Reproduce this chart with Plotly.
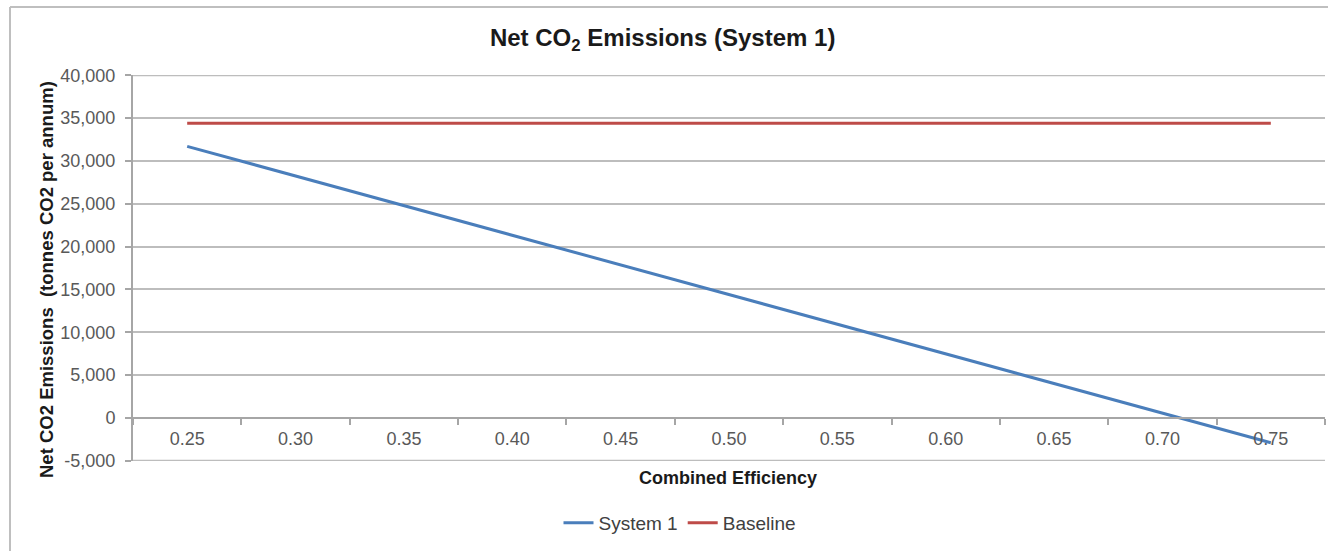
import plotly.graph_objects as go

efficiency = ["0.25", "0.30", "0.35", "0.40", "0.45", "0.50", "0.55", "0.60", "0.65", "0.70", "0.75"]
system1 = [31700, 28240, 24780, 21320, 17860, 14400, 10940, 7480, 4020, 560, -2900]
baseline = [34400] * 11
y_ticks = [-5000, 0, 5000, 10000, 15000, 20000, 25000, 30000, 35000, 40000]
y_tick_labels = ["-5,000", "0", "5,000", "10,000", "15,000", "20,000", "25,000", "30,000", "35,000", "40,000"]

FONT = "Liberation Sans, Arial, sans-serif"
W, H = 1328, 551
L, R, T, B = 133, 3, 75, 90
pw, ph = W - L - R, H - T - B
GRID = "#bdbdbd"

def px(x):
    return (x - L) / pw

def py(y):
    return (H - B - y) / ph

fig = go.Figure()
fig.add_trace(go.Scatter(x=efficiency, y=system1, mode="lines", name="System 1",
                         line=dict(color="#4a7ebb", width=3)))
fig.add_trace(go.Scatter(x=efficiency, y=baseline, mode="lines", name="Baseline",
                         line=dict(color="#be4b48", width=3)))

ymin, ymax = y_ticks[0], y_ticks[-1]
pad = 25
fig.update_layout(
    width=W, height=H,
    margin=dict(l=L, r=R, t=T, b=B),
    paper_bgcolor="white", plot_bgcolor="white",
    font=dict(family=FONT, size=18, color="#404040"),
    title=dict(text="<b>Net CO<sub>2</sub> Emissions (System 1)</b>",
               x=0.499, xanchor="center", y=1 - 38 / H, yanchor="middle",
               font=dict(family=FONT, size=24, color="#1a1a1a")),
    xaxis=dict(type="category", range=[-0.5, 10.5], showgrid=False,
               showline=True, linecolor="#a6a6a6", linewidth=2,
               ticks="outside", tickson="boundaries", ticklen=6, tickwidth=2,
               tickcolor="#a6a6a6", anchor="free",
               position=(0 - ymin + pad) / (ymax - ymin + 2 * pad),
               tickfont=dict(size=18, color="#595959"), ticklabelstandoff=4,
               zeroline=False),
    yaxis=dict(range=[ymin - pad, ymax + pad], tickmode="array", tickvals=y_ticks,
               ticktext=y_tick_labels,
               showgrid=True, gridcolor=GRID, gridwidth=2,
               showline=True, linecolor="#a6a6a6", linewidth=2,
               ticks="outside", ticklen=6, tickwidth=2, tickcolor="#a6a6a6",
               tickfont=dict(size=18, color="#595959"), ticklabelstandoff=6,
               zeroline=False, domain=[0, 1]),
    legend=dict(orientation="h", x=px(680), xanchor="center", y=py(523),
                yanchor="middle", font=dict(size=19, color="#404040"),
                bgcolor="rgba(0,0,0,0)"),
    showlegend=True,
)

# end gridlines (plotly skips gridlines at the plot edges)
for yv in (ymin, ymax):
    fig.add_shape(type="line", xref="paper", yref="y", x0=0, x1=1, y0=yv, y1=yv,
                  line=dict(color=GRID, width=2), layer="below")

fig.add_annotation(text="<b>Combined Efficiency</b>", xref="paper", yref="paper",
                   x=px(728), y=py(478), xanchor="center", yanchor="middle",
                   showarrow=False, font=dict(family=FONT, size=18, color="#1a1a1a"))
fig.add_annotation(text="<b>Net CO2 Emissions\u00a0 (tonnes CO2 per annum)</b>",
                   xref="paper", yref="paper", x=px(46), y=py(280),
                   xanchor="center", yanchor="middle", textangle=-90,
                   showarrow=False, font=dict(family=FONT, size=18.5, color="#1a1a1a"))

# outer chart border (left and top edges visible)
fig.add_shape(type="line", xref="paper", yref="paper", x0=px(10), x1=px(10),
              y0=py(551), y1=py(7), line=dict(color="#bfbfbf", width=2))
fig.add_shape(type="line", xref="paper", yref="paper", x0=px(10), x1=px(1328),
              y0=py(7), y1=py(7), line=dict(color="#bfbfbf", width=2))

fig.write_html("out.html", config={"displayModeBar": False})

# remove the browser's default page margin so the figure sits at (0, 0)
with open("out.html", encoding="utf-8") as f:
    html = f.read()
html = html.replace("<head>", "<head><style>html,body{margin:0;padding:0;overflow:hidden;}</style>", 1)
with open("out.html", "w", encoding="utf-8") as f:
    f.write(html)
